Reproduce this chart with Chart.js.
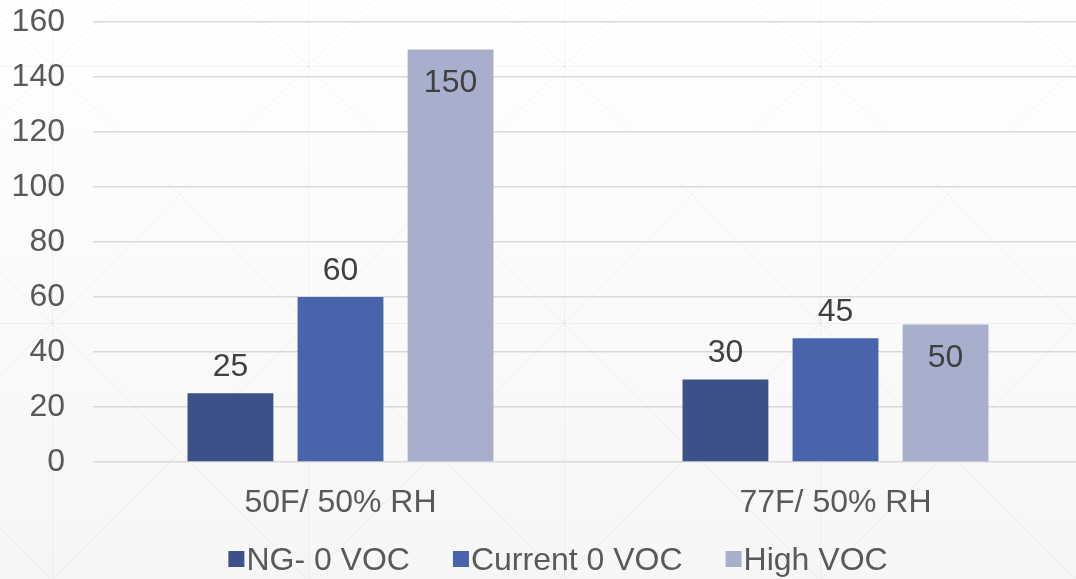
<!DOCTYPE html>
<html>
<head>
<meta charset="utf-8">
<script src="https://cdn.jsdelivr.net/npm/chart.js@4/dist/chart.umd.min.js"></script>
<style>
  html, body { margin: 0; padding: 0; }
  body {
    width: 1076px;
    height: 579px;
    overflow: hidden;
    background-color: #fcfcfc;
    background-image:
      url("data:image/svg+xml,%3Csvg xmlns='http://www.w3.org/2000/svg' width='256' height='257'%3E%3Cg stroke='rgba(0,0,0,0.045)' stroke-width='1' fill='none'%3E%3Cpath d='M0.5 0V257M0 0.5H256M0 0L256 257M256 0L0 257'/%3E%3C/g%3E%3C/svg%3E"),
      linear-gradient(#ffffff, #f6f6f6);
    background-position: 52px 66px, 0 0;
    background-size: 256px 257px, 100% 100%;
  }
  #wrap { position: absolute; left: 0; top: 0; }
</style>
</head>
<body>
<div id="wrap"><canvas id="vocChart" width="1090" height="579"></canvas></div>
<script>
const categories = ['50F/ 50% RH', '77F/ 50% RH'];
const seriesNames = ['NG- 0 VOC', 'Current 0 VOC', 'High VOC'];
const ngZeroVoc = [25, 30];
const currentZeroVoc = [60, 45];
const highVoc = [150, 50];
const yMax = 160;
const yStep = 20;

const FONT = '"Liberation Sans", Arial, sans-serif';

// value labels: above the bar, or just inside its top for series flagged labelInside
const valueLabels = {
  id: 'valueLabels',
  afterDatasetsDraw(chart) {
    const ctx = chart.ctx;
    ctx.save();
    ctx.font = '32px ' + FONT;
    ctx.fillStyle = '#404040';
    ctx.textAlign = 'center';
    ctx.textBaseline = 'middle';
    chart.data.datasets.forEach((ds, i) => {
      chart.getDatasetMeta(i).data.forEach((bar, j) => {
        const y = ds.labelInside ? bar.y + 34 : bar.y - 26;
        ctx.fillText(ds.data[j], bar.x, y);
      });
    });
    ctx.restore();
  }
};

// legend drawn by hand so the swatch sits tight against its text
const bottomLegend = {
  id: 'bottomLegend',
  afterDraw(chart) {
    const ctx = chart.ctx;
    const box = 16, gap = 2, spacing = 43;
    ctx.save();
    ctx.font = '32px ' + FONT;
    ctx.textBaseline = 'middle';
    ctx.textAlign = 'left';
    const items = chart.data.datasets.map(ds => ({
      text: ds.label,
      color: ds.backgroundColor,
      w: ctx.measureText(ds.label).width
    }));
    const total = items.reduce((s, it) => s + box + gap + it.w, 0) + spacing * (items.length - 1);
    let x = 558 - total / 2;
    const y = chart.height - 20;
    items.forEach(it => {
      ctx.fillStyle = it.color;
      ctx.fillRect(x, y - box / 2, box, box);
      x += box + gap;
      ctx.fillStyle = '#595959';
      ctx.fillText(it.text, x, y + 2);
      x += it.w + spacing;
    });
    ctx.restore();
  }
};

new Chart(document.getElementById('vocChart'), {
  type: 'bar',
  data: {
    labels: categories,
    datasets: [
      { label: seriesNames[0], data: ngZeroVoc, backgroundColor: '#3c5188' },
      { label: seriesNames[1], data: currentZeroVoc, backgroundColor: '#4864ab' },
      { label: seriesNames[2], data: highVoc, backgroundColor: '#a8afcd', labelInside: true }
    ]
  },
  options: {
    responsive: false,
    animation: false,
    events: [],
    layout: { padding: { left: 10.6, right: 7, top: 22, bottom: 62 } },
    datasets: {
      bar: { categoryPercentage: 0.667, barPercentage: 0.78 }
    },
    scales: {
      x: {
        grid: { display: false },
        border: { display: false },
        ticks: { color: '#595959', font: { family: FONT, size: 32 }, padding: 14 },
        afterFit(scale) {
          scale.height = 55;
          scale.paddingLeft = 0;
          scale.paddingRight = 0;
        }
      },
      y: {
        min: 0,
        max: yMax,
        border: { display: false },
        grid: { color: '#d9d9d9', lineWidth: 1.5, drawTicks: false },
        ticks: { stepSize: yStep, color: '#595959', font: { family: FONT, size: 32 }, padding: 28 },
        afterFit(scale) {
          scale.width = 82.4;
          scale.paddingTop = 0;
          scale.paddingBottom = 0;
        }
      }
    },
    plugins: {
      legend: { display: false },
      tooltip: { enabled: false }
    }
  },
  plugins: [valueLabels, bottomLegend]
});
</script>
</body>
</html>
